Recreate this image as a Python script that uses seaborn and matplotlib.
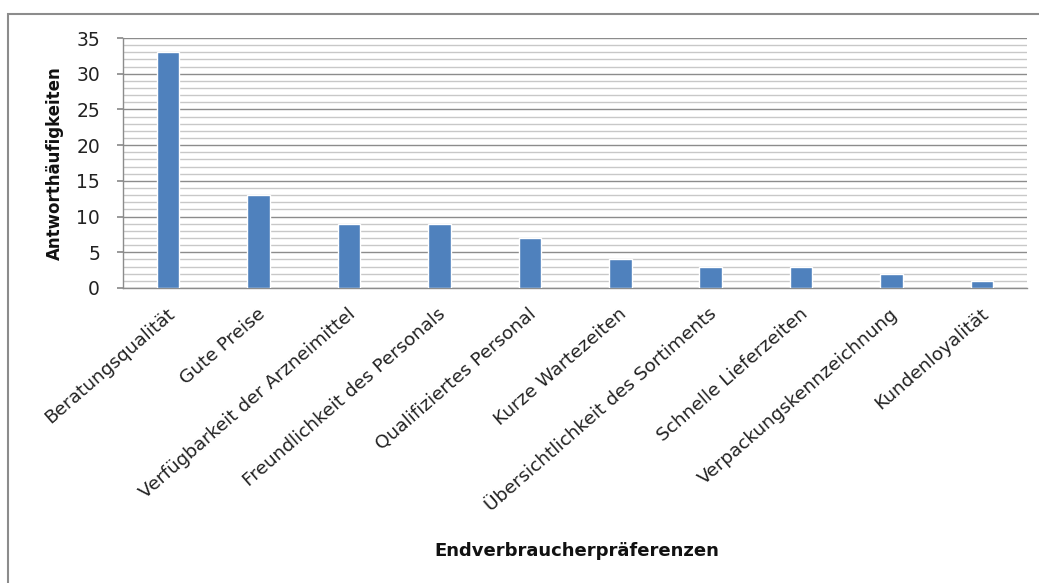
import matplotlib
matplotlib.use("Agg")
import matplotlib.pyplot as plt
import matplotlib.transforms as mtransforms
import seaborn as sns
import pandas as pd
from matplotlib.patches import Rectangle
from matplotlib.ticker import MultipleLocator

categories = ["Beratungsqualität", "Gute Preise", "Verfügbarkeit der Arzneimittel",
              "Freundlichkeit des Personals", "Qualifiziertes Personal", "Kurze Wartezeiten",
              "Übersichtlichkeit des Sortiments", "Schnelle Lieferzeiten",
              "Verpackungskennzeichnung", "Kundenloyalität"]
values = [33, 13, 9, 9, 7, 4, 3, 3, 2, 1]

sns.set_theme(style="white")
plt.rcParams['font.family'] = ['DejaVu Sans']

df = pd.DataFrame({"cat": categories, "val": values})

fig = plt.figure(figsize=(10.39, 5.83), dpi=100)
ax = fig.add_axes([123/1039, 1-288/583, (1027-123)/1039, (288-38)/583])

sns.barplot(data=df, x="cat", y="val", color="#4F81BD", width=0.25, ax=ax, zorder=3,
            saturation=1)

ax.set_ylim(0, 35)
ax.set_xlim(-0.5, len(categories)-0.5)
ax.yaxis.set_major_locator(MultipleLocator(5))
ax.yaxis.set_minor_locator(MultipleLocator(1))
ax.grid(which="major", axis="y", color="#8c8c8c", linewidth=1.0, zorder=0)
ax.grid(which="minor", axis="y", color="#c8c8c8", linewidth=1.0, zorder=0)
ax.grid(axis="x", visible=False)
ax.set_axisbelow(True)

for s in ["top", "right"]:
    ax.spines[s].set_visible(False)
for s in ["left", "bottom"]:
    ax.spines[s].set_color("#8c8c8c")
    ax.spines[s].set_linewidth(1.0)

ax.tick_params(axis="y", which="major", left=True, length=4.5, color="#8c8c8c",
               labelsize=13.5, labelcolor="#222222", pad=12)
ax.tick_params(axis="y", which="minor", left=False)
ax.tick_params(axis="x", bottom=False, labelsize=13.3, labelcolor="#222222", pad=11)

ax.set_xticks(range(len(categories)))
ax.set_xticklabels(categories, rotation=41, ha="right", va="center", rotation_mode="anchor")
offset = mtransforms.ScaledTranslation(4/100, 0, fig.dpi_scale_trans)
for lbl in ax.get_xticklabels():
    lbl.set_transform(lbl.get_transform() + offset)

ax.set_ylabel("")
ax.set_xlabel("")
fig.text(55/1039, 1-163/583, "Antworthäufigkeiten", ha="center", va="center", rotation=90,
         fontsize=12, fontweight="bold", color="#111111")
fig.text(577/1039, 1-551/583, "Endverbraucherpräferenzen", ha="center", va="center",
         fontsize=13, fontweight="bold", color="#111111")

fig.patches.append(Rectangle((8/1039, -0.05), 1.2, 1-14/583+0.05, transform=fig.transFigure,
                             fill=False, edgecolor="#8c8c8c", linewidth=1.5))

fig.savefig("out.png", dpi=100)
